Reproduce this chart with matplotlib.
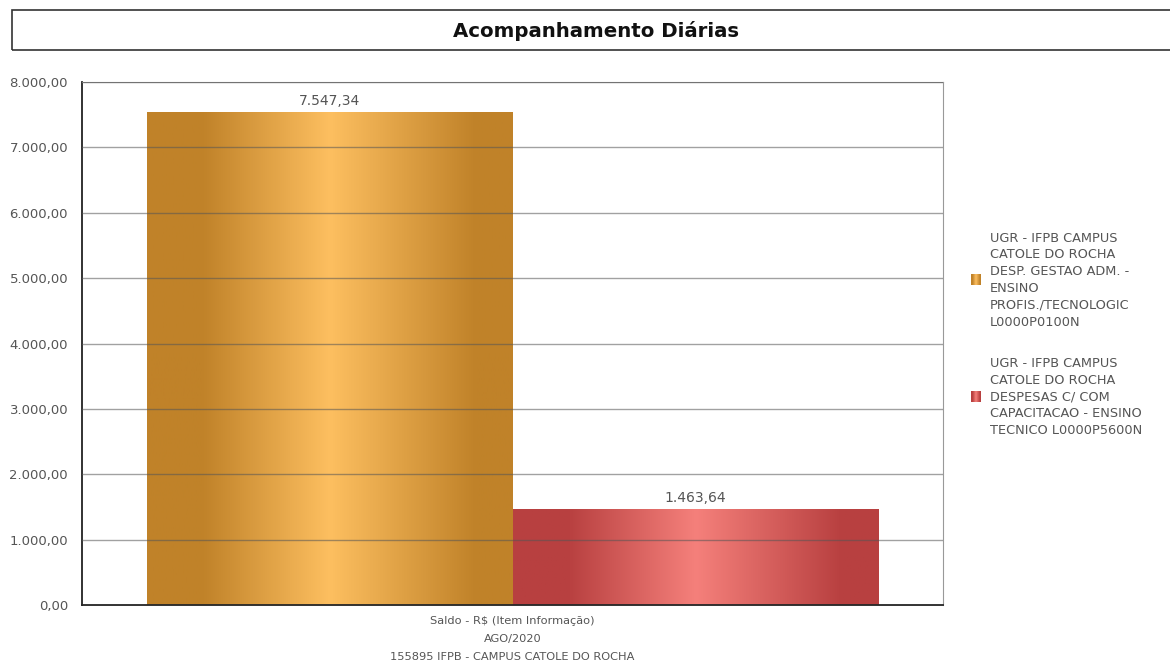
import numpy as np
import matplotlib
matplotlib.use("Agg")
import matplotlib.pyplot as plt
from matplotlib.colors import LinearSegmentedColormap
from matplotlib.patches import Rectangle

# Dados do grafico
categoria = "Saldo - R$ (Item Informação)\nAGO/2020\n155895 IFPB - CAMPUS CATOLE DO ROCHA"
series = [
    "UGR - IFPB CAMPUS\nCATOLE DO ROCHA\nDESP. GESTAO ADM. -\nENSINO\nPROFIS./TECNOLOGIC\nL0000P0100N",
    "UGR - IFPB CAMPUS\nCATOLE DO ROCHA\nDESPESAS C/ COM\nCAPACITACAO - ENSINO\nTECNICO L0000P5600N",
]
valores = [7547.34, 1463.64]
y_ticks = [0, 1000, 2000, 3000, 4000, 5000, 6000, 7000, 8000]

cores = [("#C08229", "#FDBF60"), ("#B84040", "#F5807B")]
cinza = "#555555"


def brl(v):
    s = "{:,.2f}".format(v)
    return s.replace(",", "X").replace(".", ",").replace("X", ".")


def gradiente(escura, clara):
    return LinearSegmentedColormap.from_list(
        "g", [(0, escura), (0.15, escura), (0.5, clara), (0.9, escura), (1, escura)])


fig = plt.figure(figsize=(11.7, 6.65), dpi=100)

# Caixa do titulo
fig.patches.append(Rectangle((12 / 1170, 1 - 50 / 665), 1.1, 40 / 665,
                             transform=fig.transFigure, fill=False,
                             edgecolor="#333333", linewidth=1.2))
fig.text(596 / 1170, 1 - 31 / 665, "Acompanhamento Diárias", ha="center", va="center",
         fontsize=14.2, fontweight="bold", color="#111111")

ax = fig.add_axes([82 / 1170, 1 - 605 / 665, 861 / 1170, 523 / 665])

largura = 0.424
posicoes = [-largura / 2, largura / 2]
grad = np.linspace(0, 1, 256).reshape(1, -1)
for i, (x, v) in enumerate(zip(posicoes, valores)):
    barra = ax.bar(x, v, width=largura, color="none", edgecolor="none", zorder=2)[0]
    im = ax.imshow(grad, cmap=gradiente(*cores[i]), aspect="auto",
                   extent=[x - largura / 2, x + largura / 2, 0, v], zorder=2)
    im.set_clip_path(barra)
    ax.text(x, v + 60, brl(v), ha="center", va="bottom", fontsize=10, color=cinza)

ax.set_xlim(-0.5, 0.5)
ax.set_ylim(0, 8000)
ax.set_yticks(y_ticks)
ax.set_yticklabels([brl(t) for t in y_ticks])
ax.set_xticks([0])
ax.set_xticklabels([categoria], linespacing=2.0)
ax.tick_params(axis="x", length=0, pad=8, labelsize=8.2, labelcolor=cinza)
ax.tick_params(axis="y", length=0, pad=10, labelsize=9.5, labelcolor=cinza)
ax.grid(axis="y", color="#555555", alpha=0.55, linewidth=1, zorder=3)
ax.set_axisbelow(False)
for lado in ["top", "right"]:
    ax.spines[lado].set_color("#999999")
for lado in ["left", "bottom"]:
    ax.spines[lado].set_color("#222222")
    ax.spines[lado].set_linewidth(1.3)

# Legenda manual
centros = [280, 397]
for i, rotulo in enumerate(series):
    yc = 1 - centros[i] / 665
    lax = fig.add_axes([971 / 1170, yc - 5 / 665, 10 / 1170, 11 / 665])
    lax.imshow(grad, cmap=gradiente(*cores[i]), aspect="auto")
    lax.axis("off")
    fig.text(990 / 1170, yc, rotulo, ha="left", va="center", fontsize=9.3,
             color=cinza, linespacing=1.38)

fig.savefig("out.png", dpi=100)
